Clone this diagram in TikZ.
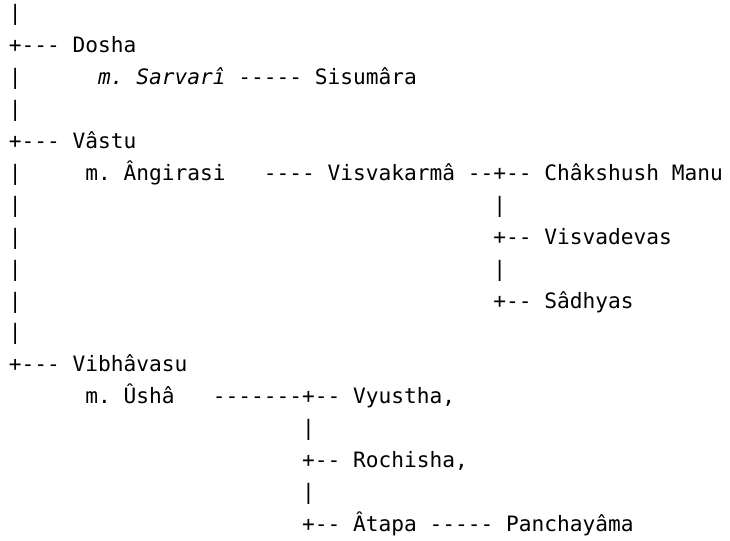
\documentclass[tikz,border=0pt]{standalone}
\usepackage{fontspec}
\setmonofont{DejaVu Sans Mono}
\usepackage{xcolor}

\begin{document}
\begin{tikzpicture}[x=9.5625pt,y=-23.925pt,
every node/.style={anchor=base west,inner sep=0mm,
  font=\ttfamily\fontsize{15.88pt}{19pt}\selectfont},
lab/.style={text=black},
em/.style={font=\ttfamily\itshape\fontsize{15.88pt}{19pt}\selectfont}
]
\useasboundingbox (-0.675,-0.658) rectangle (56.58,16.30);

% main stem
\foreach \r in {0,2,3,5,6,7,8,9,10}
  \path (0,\r) node (stem\r) {|};
\foreach \r/\name/\txt in {1/dosha/Dosha,4/vastu/Vâstu,11/vibhavasu/Vibhâvasu}
  \path (0,\r) node (fork\r) {+---}
        (5,\r) node[lab] (\name) {\txt};

% Dosha
\path (7,2)  node[em] (sarvari) {m. Sarvarî}
      (18,2) node (l2) {-----}
      (24,2) node[lab] (sisumara) {Sisumâra};

% Vastu
\path (6,5)  node[lab] (angirasi) {m. Ângirasi}
      (20,5) node (l5a) {----}
      (25,5) node[lab] (visvakarma) {Visvakarmâ}
      (36,5) node (l5b) {--+--}
      (42,5) node[lab] (chakshush) {Châkshush Manu};
\foreach \r in {6,8}
  \path (38,\r) node (sub\r) {|};
\path (38,7) node (f7) {+--}
      (42,7) node[lab] (visvadevas) {Visvadevas}
      (38,9) node (f9) {+--}
      (42,9) node[lab] (sadhyas) {Sâdhyas};

% Vibhavasu
\path (6,12)  node[lab] (usha) {m. Ûshâ}
      (16,12) node (l12) {-------+--}
      (27,12) node[lab] (vyustha) {Vyustha,};
\foreach \r in {13,15}
  \path (23,\r) node (sub\r) {|};
\path (23,14) node (f14) {+--}
      (27,14) node[lab] (rochisha) {Rochisha,}
      (23,16) node (f16) {+--}
      (27,16) node[lab] (atapa) {Âtapa}
      (33,16) node (l16) {-----}
      (39,16) node[lab] (panchayama) {Panchayâma};
\end{tikzpicture}
\end{document}
